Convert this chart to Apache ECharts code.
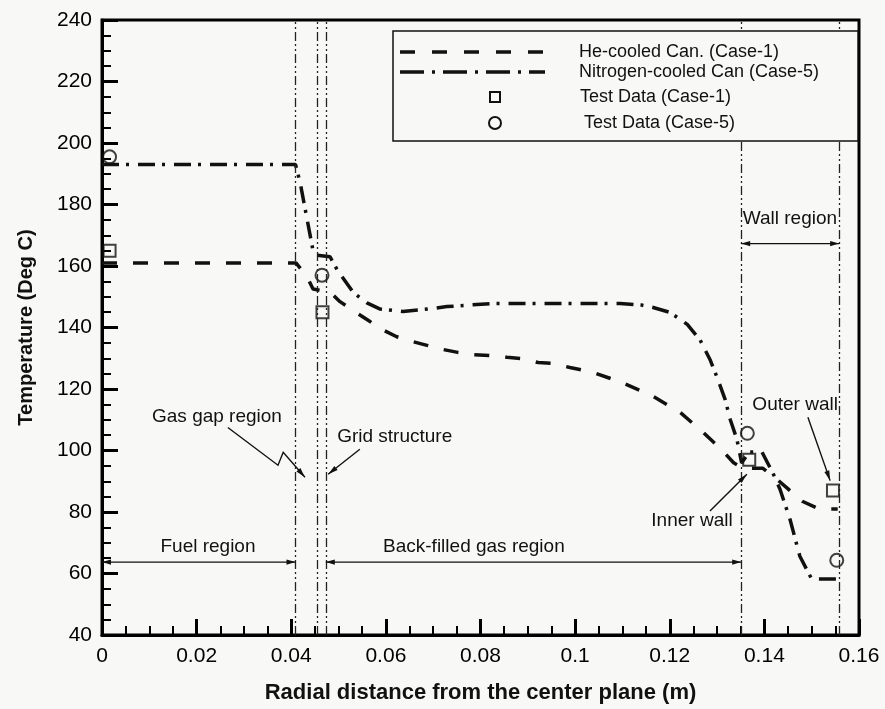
<!DOCTYPE html>
<html>
<head>
<meta charset="utf-8">
<script src="https://cdn.jsdelivr.net/npm/echarts@6/dist/echarts.min.js"></script>
<style>
  html, body { margin: 0; padding: 0; background: #f8f8f6; }
  #chart { width: 885px; height: 709px; }
</style>
</head>
<body>
<div id="chart"></div>
<script>
// Radial temperature profiles across the fuel canister (m, deg C)

// He-cooled canister, model (Case-1)
const heX = [0, 0.0410, 0.0433, 0.0446, 0.0482, 0.0503, 0.0534, 0.0560, 0.0591, 0.0623, 0.0655,
  0.0687, 0.0719, 0.0752, 0.0784, 0.0820, 0.0856, 0.0888, 0.0922, 0.0953, 0.0989, 0.1038, 0.1101,
  0.1165, 0.1222, 0.1270, 0.1313, 0.1335, 0.1355, 0.1397, 0.1420, 0.1450, 0.1480, 0.1515, 0.1555];
const heT = [161, 161, 156.6, 152.5, 151.5, 148.4, 145.2, 142.6, 139.4, 137, 135.5,
  134.2, 132.9, 131.9, 131.2, 130.9, 130.3, 129.9, 128.6, 128.3, 127, 125.4, 122,
  117.6, 112.4, 106, 99.7, 96, 94.2, 94.2, 91.5, 87.5, 83.5, 81, 81];

// Nitrogen-cooled canister, model (Case-5)
const n2X = [0, 0.0409, 0.0419, 0.0446, 0.0454, 0.0482, 0.0497, 0.0531, 0.0560, 0.0588, 0.0636,
  0.0700, 0.0729, 0.0826, 0.0953, 0.1095, 0.1140, 0.1165, 0.1201, 0.1237, 0.1264, 0.1285, 0.1302,
  0.1317, 0.1328, 0.1342, 0.1352, 0.1368, 0.1395, 0.1420, 0.1433, 0.1454, 0.1475, 0.1500, 0.1555];
const n2T = [193, 193, 187, 165, 163.5, 163, 158.8, 151.4, 148, 146, 145.2,
  146.2, 146.8, 147.8, 147.8, 147.8, 147.3, 146.5, 144.9, 141, 136, 129.6, 123,
  116.6, 110, 103.6, 96, 99.5, 99.5, 92, 87.4, 77.7, 65.6, 58.2, 58.2];

// Thermocouple readings
const test1X = [0.0016, 0.0466, 0.1368, 0.1545];
const test1T = [165, 145, 97, 87];
const test5X = [0.0016, 0.0465, 0.1364, 0.1553];
const test5T = [195.5, 157, 105.6, 64.3];

const seriesNames = ['He-cooled Can. (Case-1)', 'Nitrogen-cooled Can (Case-5)', 'Test Data (Case-1)', 'Test Data (Case-5)'];

const xTickLabels = ['0', '0.02', '0.04', '0.06', '0.08', '0.1', '0.12', '0.14', '0.16'];
const yTickLabels = ['40', '60', '80', '100', '120', '140', '160', '180', '200', '220', '240'];

// Boundaries between fuel, gas gap, grid, back-fill and wall
const regionBounds = [0.0409, 0.0455, 0.0473, 0.1351, 0.1558];

const FONT = '"Liberation Sans", Arial, Helvetica, sans-serif';
const INK = '#111';

const zip = (xs, ys) => xs.map((x, i) => [x, ys[i]]);

const chart = echarts.init(document.getElementById('chart'), null, { renderer: 'canvas' });

const option = {
  backgroundColor: '#f8f8f6',
  animation: false,
  grid: {
    left: 102, right: 26, top: 20, bottom: 73,
    show: true, borderColor: '#000', borderWidth: 3, backgroundColor: 'transparent'
  },
  xAxis: {
    type: 'value', min: 0, max: 0.16, interval: 0.02,
    name: 'Radial distance from the center plane (m)',
    nameLocation: 'middle', nameGap: 47,
    nameTextStyle: { fontFamily: FONT, fontWeight: 'bold', fontSize: 22, color: INK },
    axisLine: { show: true, lineStyle: { color: '#000', width: 3 } },
    axisTick: { show: true, inside: true, length: 16, lineStyle: { color: '#000', width: 3 } },
    minorTick: { show: true, splitNumber: 4, length: 9, lineStyle: { color: '#000', width: 2 } },
    splitLine: { show: false },
    axisLabel: {
      fontFamily: FONT, fontSize: 21, color: '#000', margin: 11,
      formatter: v => xTickLabels[Math.round(v / 0.02)]
    }
  },
  yAxis: {
    type: 'value', min: 40, max: 240, interval: 20,
    name: 'Temperature (Deg C)',
    nameLocation: 'middle', nameGap: 66,
    nameTextStyle: { fontFamily: FONT, fontWeight: 'bold', fontSize: 20, color: INK },
    axisLine: { show: true, lineStyle: { color: '#000', width: 3 } },
    axisTick: { show: true, inside: true, length: 16, lineStyle: { color: '#000', width: 3 } },
    minorTick: { show: true, splitNumber: 4, length: 9, lineStyle: { color: '#000', width: 2 } },
    splitLine: { show: false },
    axisLabel: {
      fontFamily: FONT, fontSize: 21, color: '#000', margin: 10,
      formatter: v => yTickLabels[Math.round((v - 40) / 20)]
    }
  },
  series: [
    {
      name: seriesNames[0], type: 'line', data: zip(heX, heT), showSymbol: false,
      lineStyle: { color: INK, width: 3.5, type: [15, 16] }, z: 3
    },
    {
      name: seriesNames[1], type: 'line', data: zip(n2X, n2T), showSymbol: false,
      lineStyle: { color: INK, width: 3.5, type: [17, 7, 3, 9] }, z: 3,
      markLine: {
        silent: true, symbol: 'none', animation: false, precision: 6,
        label: { show: false },
        lineStyle: { color: '#222', width: 1.3, type: [9, 3, 2, 3, 2, 3] },
        data: regionBounds.map(x => ({ xAxis: x }))
      }
    },
    {
      name: seriesNames[2], type: 'scatter', data: zip(test1X, test1T),
      symbol: 'rect', symbolSize: 12,
      itemStyle: { color: 'rgba(0,0,0,0)', borderColor: INK, borderWidth: 2 }, z: 4
    },
    {
      name: seriesNames[3], type: 'scatter', data: zip(test5X, test5T),
      symbol: 'circle', symbolSize: 13,
      itemStyle: { color: 'rgba(0,0,0,0)', borderColor: INK, borderWidth: 2 }, z: 4
    }
  ]
};

chart.setOption(option);

// ---- annotations, placed in data space ----
const spans = [
  { from: 0, to: regionBounds[0], at: 63.7, text: 'Fuel region', tx: 0.0224, ty: 68.8 },
  { from: regionBounds[2], to: regionBounds[3], at: 63.7, text: 'Back-filled gas region', tx: 0.0786, ty: 68.8 },
  { from: regionBounds[3], to: regionBounds[4], at: 167.3, text: 'Wall region', tx: 0.1454, ty: 175.2 }
];
const pointers = [
  { text: 'Gas gap region', tx: 0.0243, ty: 111.0, align: 'center',
    path: [[0.0266, 107.5], [0.0372, 95.2], [0.0383, 99.4], [0.0429, 91.3]] },
  { text: 'Grid structure', tx: 0.0497, ty: 104.6, align: 'left',
    path: [[0.0545, 100.4], [0.0478, 92.3]] },
  { text: 'Outer wall', tx: 0.1465, ty: 114.8, align: 'center',
    path: [[0.1492, 110.8], [0.1539, 90.2]] },
  { text: 'Inner wall', tx: 0.1247, ty: 77.0, align: 'center',
    path: [[0.1285, 80.3], [0.1363, 92.3]] }
];

const px = p => chart.convertToPixel({ gridIndex: 0 }, p);

function head(tip, tail, len, half) {
  const dx = tip[0] - tail[0], dy = tip[1] - tail[1];
  const d = Math.hypot(dx, dy) || 1;
  const ux = dx / d, uy = dy / d;
  const bx = tip[0] - ux * len, by = tip[1] - uy * len;
  return {
    type: 'polygon', silent: true, z: 10,
    shape: { points: [tip, [bx - uy * half, by + ux * half], [bx + uy * half, by - ux * half]] },
    style: { fill: INK }
  };
}

const textStyle = (x, y, s, align) => ({
  type: 'text', silent: true, z: 10, x, y,
  style: { text: s, fill: INK, font: '19px ' + FONT, align, verticalAlign: 'middle' }
});

const g = [];
spans.forEach(s => {
  const a = px([s.from, s.at]), b = px([s.to, s.at]);
  g.push({ type: 'line', silent: true, z: 10, shape: { x1: a[0], y1: a[1], x2: b[0], y2: b[1] },
    style: { stroke: INK, lineWidth: 1.2 } });
  g.push(head(a, b, 9, 2.6));
  g.push(head(b, a, 9, 2.6));
  const t = px([s.tx, s.ty]);
  g.push(textStyle(t[0], t[1], s.text, 'center'));
});
pointers.forEach(p => {
  const pts = p.path.map(px);
  g.push({ type: 'polyline', silent: true, z: 10, shape: { points: pts },
    style: { stroke: INK, lineWidth: 1.4, fill: null } });
  g.push(head(pts[pts.length - 1], pts[pts.length - 2], 10, 2.6));
  const t = px([p.tx, p.ty]);
  g.push(textStyle(t[0], t[1], p.text, p.align));
});

// ---- legend box ----
const lg = { left: 393, top: 31, right: 858, bottom: 141 };
g.push({ type: 'rect', silent: true, z: 9,
  shape: { x: lg.left, y: lg.top, width: lg.right - lg.left, height: lg.bottom - lg.top },
  style: { fill: '#f8f8f6', stroke: INK, lineWidth: 1.5 } });
const legendRows = [
  { kind: 'line', dash: [15, 17], y: 52, tx: 579 },
  { kind: 'line', dash: [24, 8, 3, 8], y: 72, tx: 579 },
  { kind: 'rect', y: 97, tx: 580 },
  { kind: 'circle', y: 123, tx: 584 }
];
legendRows.forEach((r, i) => {
  if (r.kind === 'line') {
    g.push({ type: 'line', silent: true, z: 10, shape: { x1: 400, y1: r.y, x2: 545, y2: r.y },
      style: { stroke: INK, lineWidth: 3.5, lineDash: r.dash } });
  } else if (r.kind === 'rect') {
    g.push({ type: 'rect', silent: true, z: 10, shape: { x: 490, y: r.y - 5, width: 10, height: 10 },
      style: { fill: null, stroke: INK, lineWidth: 2 } });
  } else {
    g.push({ type: 'circle', silent: true, z: 10, shape: { cx: 495, cy: r.y, r: 6 },
      style: { fill: null, stroke: INK, lineWidth: 2 } });
  }
  g.push({ type: 'text', silent: true, z: 10, x: r.tx, y: r.y,
    style: { text: seriesNames[i], fill: INK, font: '18px ' + FONT, align: 'left', verticalAlign: 'middle' } });
});

chart.setOption({ graphic: { elements: g } });
</script>
</body>
</html>
